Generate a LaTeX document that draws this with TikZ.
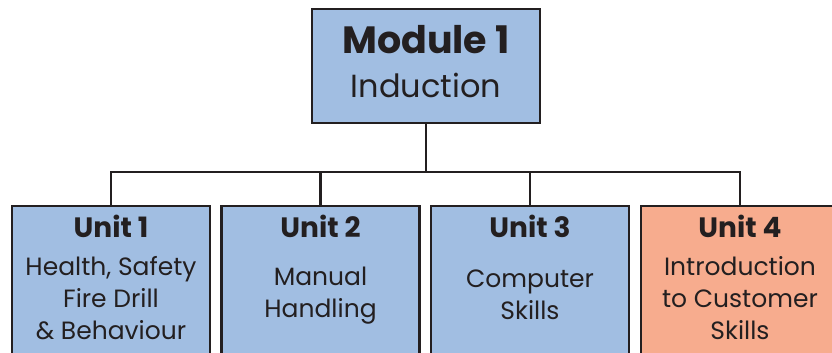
\documentclass[tikz,border=0pt]{standalone}
\usepackage{fontspec}
\setmainfont{Poppins}
\usepackage{xcolor}
\usetikzlibrary{positioning,calc}
\definecolor{unitblue}{RGB}{161,190,226}
\definecolor{unitsalmon}{RGB}{247,172,142}
\definecolor{inkline}{RGB}{35,31,32}

\begin{document}
\begin{tikzpicture}[x=1pt, y=-1pt,
  box/.style={draw=inkline, line width=2.2pt, minimum width=198pt, minimum height=180pt, anchor=north, inner sep=0pt},
  headtxt/.style={font=\bfseries\fontsize{38}{40}\selectfont, text=inkline, inner sep=0pt},
  subtxt/.style={font=\fontsize{32}{36}\selectfont, text=inkline, inner sep=0pt},
  unittxt/.style={font=\bfseries\fontsize{28}{30}\selectfont, text=inkline, inner sep=0pt},
  bodytxt/.style={font=\fontsize{25}{32}\selectfont, text=inkline, align=center, inner sep=0pt},
  link/.style={draw=inkline, line width=2.2pt}
]
\useasboundingbox (0,0) rectangle (832,353);
\clip (0,0) rectangle (832,353);
\node[box, fill=unitblue, minimum width=228pt, minimum height=114pt] (module) at (426,8) {};
\node[headtxt] (modtitle) at (426,40) {Module 1};
\node[subtxt] (modsub) at (426,85) {Induction};
\node[box, fill=unitblue] (unit1) at (111,205) {};
\node[box, fill=unitblue] (unit2) at (320.5,205) {};
\node[box, fill=unitblue] (unit3) at (530,205) {};
\node[box, fill=unitsalmon] (unit4) at (740,205) {};
\node[unittxt] (u1title) at (111,226) {Unit 1};
\node[unittxt] (u2title) at (320.5,226) {Unit 2};
\node[unittxt] (u3title) at (530,226) {Unit 3};
\node[unittxt] (u4title) at (740,226) {Unit 4};
\node[bodytxt] (u1body) at (111,298) {Health, Safety\\Fire Drill\\\& Behaviour};
\node[bodytxt] (u2body) at (320.5,296) {Manual\\Handling};
\node[bodytxt] (u3body) at (530,295) {Computer\\Skills};
\node[bodytxt] (u4body) at (740,298) {Introduction\\to Customer\\Skills};
\coordinate (split) at (426,172);
\draw[link] (module.south) -- (split);
\foreach \u in {1,...,4}
  \draw[link] (split) -| (unit\u.north);
\end{tikzpicture}
\end{document}
